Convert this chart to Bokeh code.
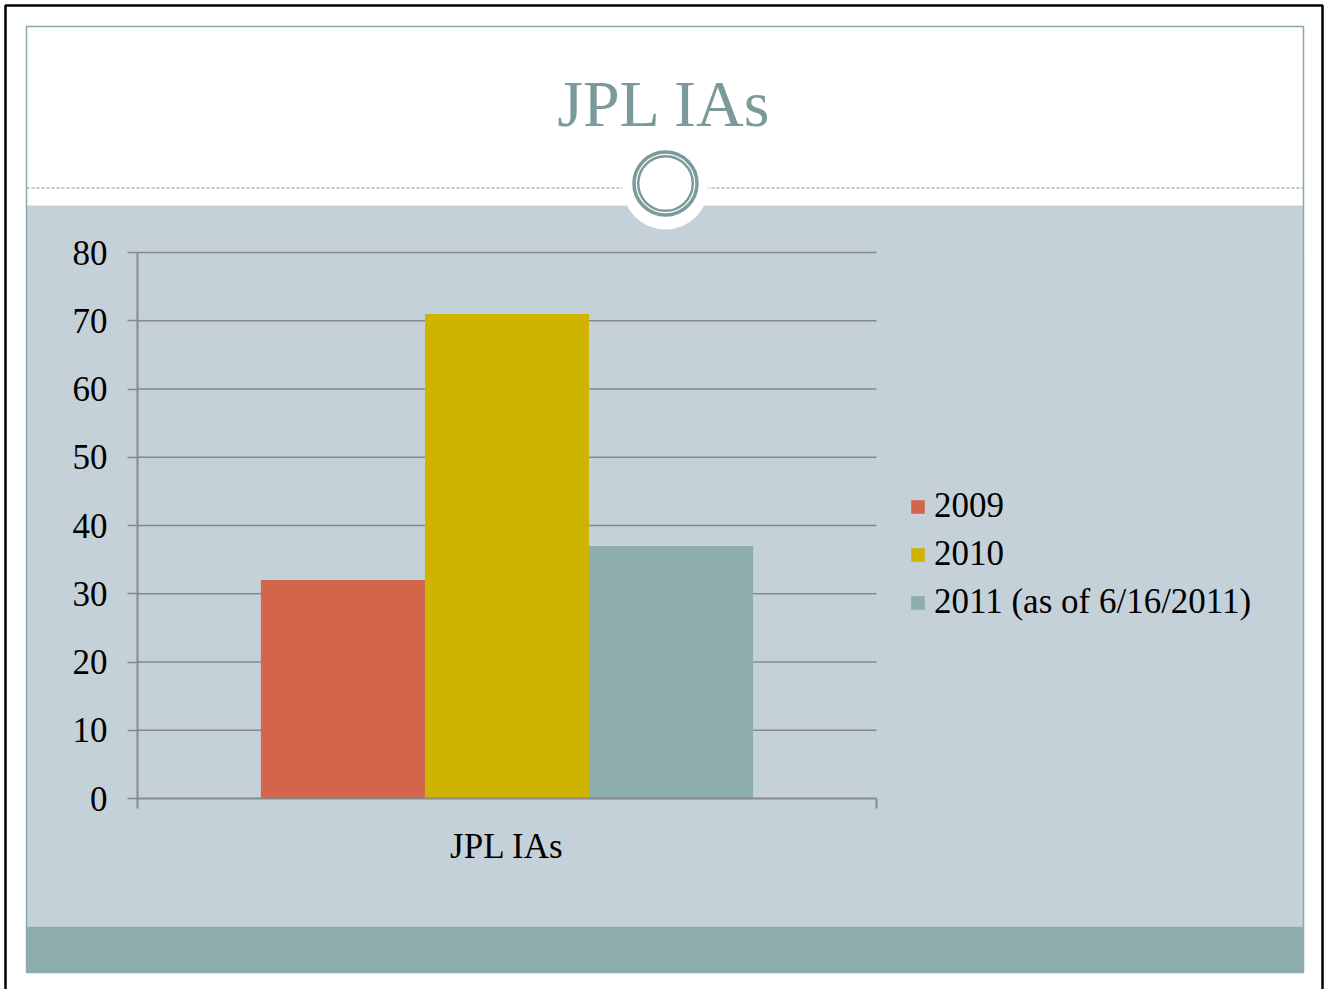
from bokeh.plotting import figure
from bokeh.models import Range1d, LinearAxis, FixedTicker, Legend, LegendItem
from bokeh.core.properties import value
from bokeh.embed import file_html
from bokeh.resources import INLINE

# ---------------- data ----------------
title_text = "JPL IAs"
categories = ["JPL IAs"]
series_names = ["2009", "2010", "2011 (as of 6/16/2011)"]
series_values = [32, 71, 37]
series_colors = ["#D3654B", "#CEB400", "#8DADAE"]
y_ticks = [0, 10, 20, 30, 40, 50, 60, 70, 80]
y_max = 80

# ---------------- layout (canvas pixels) ----------------
W, H = 1326, 989
PL, PR, PT, PB = 137, 876, 252, 798          # chart box
SL, SR, ST, SB = 26, 1303, 26, 972           # slide box
PANEL_T, BAND_T = 205, 926
CX, CY = 665, 183                              # ornament centre
DASH_Y = 187.5

FONT = "Liberation Serif"
TEAL = "#7A9B99"
AXIS = "#888888"

xs = (PR - PL) / len(categories)
ys = (PB - PT) / y_max
x_range = Range1d(-PL / xs, (W - PL) / xs)
y_range = Range1d(-(H - PB) / ys, y_max + PT / ys)

p = figure(width=W, height=H, x_range=x_range, y_range=y_range,
           output_backend="svg", toolbar_location=None,
           x_axis_location=None, y_axis_location=None, min_border=0,
           outline_line_color=None, background_fill_color="white",
           border_fill_color="white")
for g in p.grid:
    g.visible = False
p.extra_x_ranges = {"px": Range1d(0, W)}
p.extra_y_ranges = {"py": Range1d(H, 0)}
kw = dict(x_range_name="px", y_range_name="py")

# slide background
p.quad(left=[SL], right=[SR], top=[ST], bottom=[SB], fill_color="white", line_color=None, **kw)
p.quad(left=[SL], right=[SR], top=[PANEL_T], bottom=[BAND_T], fill_color="#C5D1D8", line_color=None, **kw)
p.quad(left=[SL], right=[SR], top=[BAND_T], bottom=[SB], fill_color="#8DADAD", line_color=None, **kw)
p.quad(left=[SL], right=[SR], top=[ST], bottom=[SB], fill_color=None, line_color="#8AAAA8", line_width=1.5, **kw)
# outer black frame
p.line(x=[5, 5, 1322, 1322], y=[H, 5, 5, H], line_color="black", line_width=2.5, **kw)
# dashed divider + ornament
p.segment(x0=[SL], x1=[SR], y0=[DASH_Y], y1=[DASH_Y], line_color=TEAL, line_width=1, line_dash="3 2", **kw)
p.circle(x=[CX], y=[CY + 3], radius=43, fill_color="white", line_color=None, **kw)
p.circle(x=[CX], y=[CY], radius=31.5, fill_color=None, line_color=TEAL, line_width=3.5, **kw)
p.circle(x=[CX], y=[CY], radius=27.3, fill_color=None, line_color=TEAL, line_width=2.5, **kw)
# title
p.text(x=[664], y=[103], text=[title_text], text_font=value(FONT), text_font_size="66px",
       text_color=TEAL, text_align="center", text_baseline="alphabetic", **kw)

# gridlines
p.segment(x0=0, x1=len(categories), y0=y_ticks[1:], y1=y_ticks[1:], line_color=AXIS, line_width=1.5)

# bars
n = len(series_names)
bw = 0.222
items = []
for i, (name, val, col) in enumerate(zip(series_names, series_values, series_colors)):
    xpos = [ci + 0.5 + (i - (n - 1) / 2) * bw for ci, _ in enumerate(categories)]
    r = p.vbar(x=xpos, top=[val], bottom=0, width=bw, fill_color=col, line_color=None)
    items.append(LegendItem(label=name, renderers=[r]))

# axes
yaxis = LinearAxis(fixed_location=0, bounds=(0, y_max), ticker=FixedTicker(ticks=y_ticks),
                   axis_line_color=AXIS, axis_line_width=2,
                   major_tick_line_color=AXIS, major_tick_line_width=1.5,
                   major_tick_in=0, major_tick_out=10, minor_tick_line_color=None,
                   major_label_standoff=20, major_label_text_font=FONT,
                   major_label_text_font_size="35px", major_label_text_color="black")
p.add_layout(yaxis, "left")

cat_centers = [ci + 0.5 for ci in range(len(categories))]
xaxis = LinearAxis(fixed_location=0, bounds=(0, len(categories)),
                   ticker=FixedTicker(ticks=cat_centers, minor_ticks=list(range(len(categories) + 1))),
                   major_label_overrides={c: name for c, name in zip(cat_centers, categories)},
                   axis_line_color=AXIS, axis_line_width=2,
                   major_tick_line_color=None, major_tick_in=0, major_tick_out=0,
                   minor_tick_in=0, minor_tick_out=10, minor_tick_line_color=AXIS, minor_tick_line_width=2,
                   major_label_standoff=18, major_label_text_font=FONT,
                   major_label_text_font_size="35px", major_label_text_color="black")
p.add_layout(xaxis, "below")

legend = Legend(items=items, location=(909, H - 622), orientation="vertical",
                glyph_width=17, glyph_height=17, label_standoff=8, spacing=8, label_height=40,
                label_text_font=FONT, label_text_font_size="35px", label_text_color="black",
                background_fill_alpha=0, border_line_color=None, padding=0, margin=0)
p.add_layout(legend)

open("out.html", "w").write(file_html(p, INLINE))
